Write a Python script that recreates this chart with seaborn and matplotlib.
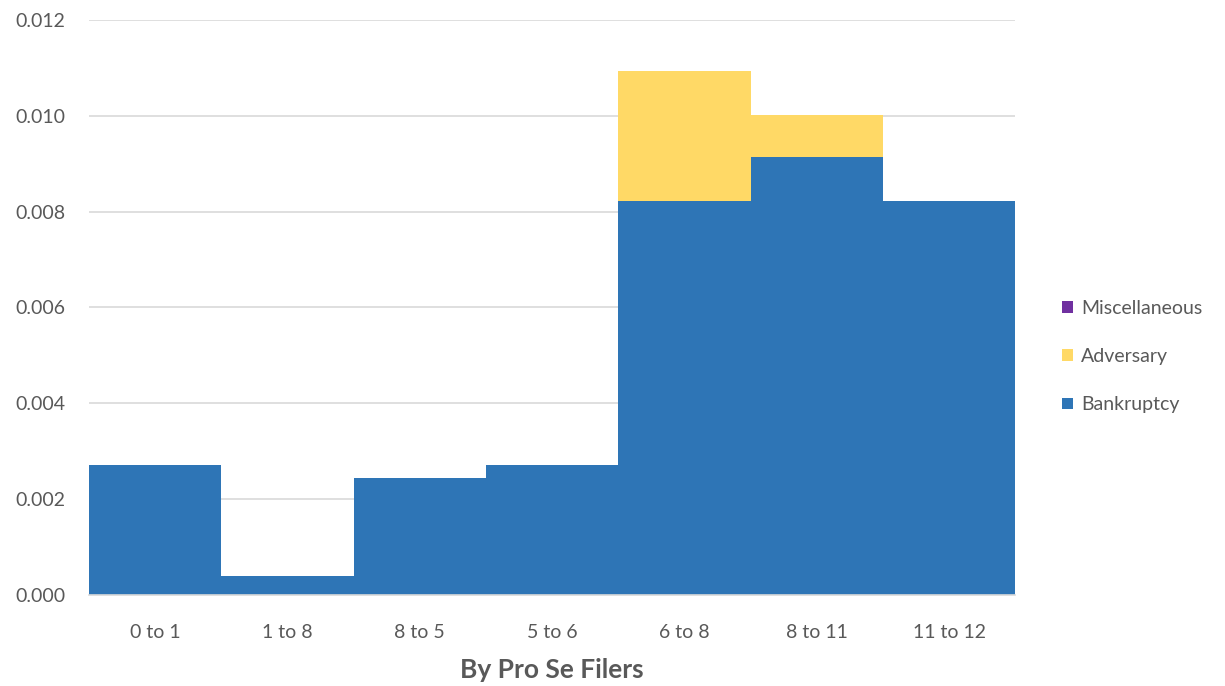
import pandas as pd
import seaborn as sns
import matplotlib.pyplot as plt
from matplotlib.patches import Patch

# --- DATA ---
categories = ["0 to 1", "1 to 8", "8 to 5", "5 to 6", "6 to 8", "8 to 11", "11 to 12"]
bankruptcy = [0.00272, 0.00040, 0.00244, 0.00272, 0.00822, 0.00914, 0.00822]
adversary = [0.0, 0.0, 0.0, 0.0, 0.00271, 0.00087, 0.0]
miscellaneous = [0.0, 0.0, 0.0, 0.0, 0.0, 0.0, 0.0]

COLORS = {"Bankruptcy": "#2E75B6", "Adversary": "#FFD966", "Miscellaneous": "#7030A0"}
TEXT = "#595959"

df = pd.DataFrame({"range": categories, "Bankruptcy": bankruptcy,
                   "Adversary": adversary, "Miscellaneous": miscellaneous})
# cumulative stacks, drawn back to front
df["cum_bank"] = df["Bankruptcy"]
df["cum_adv"] = df["cum_bank"] + df["Adversary"]
df["cum_misc"] = df["cum_adv"] + df["Miscellaneous"]

sns.set_theme(style="white")
plt.rcParams["font.family"] = ["Lato", "DejaVu Sans"]

fig = plt.figure(figsize=(12.25, 6.86), dpi=100)
ax = fig.add_axes([0.0727, 0.1327, 0.7560, 0.8381])

for col, name in [("cum_misc", "Miscellaneous"), ("cum_adv", "Adversary"), ("cum_bank", "Bankruptcy")]:
    sns.barplot(data=df, x="range", y=col, color=COLORS[name], width=1.0,
                saturation=1, linewidth=0, ax=ax, order=categories)

ax.set_ylim(0, 0.012)
ax.set_xlim(-0.5, len(categories) - 0.5)
ax.set_yticks([0.0, 0.002, 0.004, 0.006, 0.008, 0.010, 0.012])
ax.set_yticklabels([f"{v:.3f}" for v in ax.get_yticks()])
ax.yaxis.grid(True, color="#D9D9D9", linewidth=1.2)
ax.set_axisbelow(True)
for s in ["top", "right", "left"]:
    ax.spines[s].set_visible(False)
ax.spines["bottom"].set_color("#D9D9D9")
ax.spines["bottom"].set_linewidth(1.2)
ax.tick_params(axis="both", length=0, labelsize=14, colors=TEXT)
ax.tick_params(axis="y", pad=17)
ax.tick_params(axis="x", pad=21)
ax.set_ylabel("")
ax.set_xlabel("By Pro Se Filers", fontsize=19, fontweight="bold", color=TEXT, labelpad=12)

handles = [Patch(facecolor=COLORS[n], edgecolor="none", label=n)
           for n in ["Miscellaneous", "Adversary", "Bankruptcy"]]
leg = fig.legend(handles=handles, loc="center left", bbox_to_anchor=(0.853, 0.48),
                 frameon=False, fontsize=14, handlelength=0.55, handleheight=0.55,
                 handletextpad=0.4, labelspacing=1.6)
for t in leg.get_texts():
    t.set_color(TEXT)

plt.savefig("out.png", dpi=100)
